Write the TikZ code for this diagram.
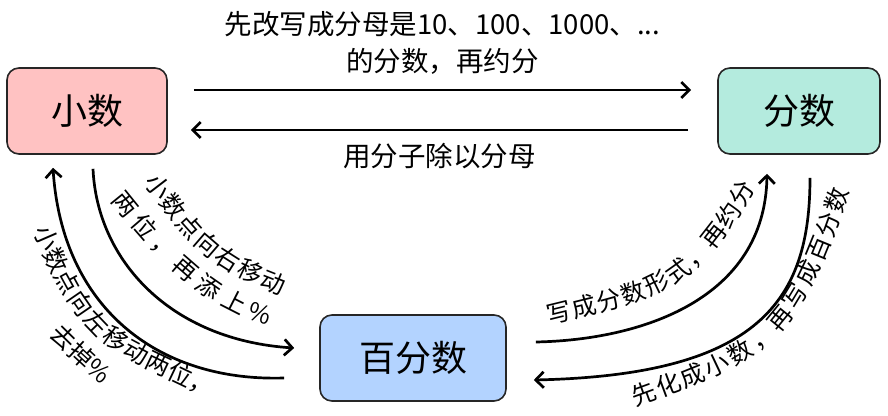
\documentclass[tikz,border=0pt]{standalone}
\usepackage{fontspec}
\setmainfont{Noto Sans CJK SC}
\usetikzlibrary{arrows.meta,decorations.text}
\definecolor{xspink}{HTML}{FFC2C2}
\definecolor{fsteal}{HTML}{B4EBDE}
\definecolor{bfblue}{HTML}{B3D3FF}
\newcommand\curvefont{\fontsize{24.5}{28}\selectfont}
\tikzset{
  box/.style={draw=black!85, line width=1.6pt, rounded corners=12pt, minimum height=86pt, font=\fontsize{36}{40}\selectfont},
  conv/.style={line width=2.7pt, -{Straight Barb[length=8pt,width=16pt]}},
  lbl/.style={font=\fontsize{27.5}{37}\selectfont, align=center},
  curvetext/.style 2 args={decorate, decoration={text along path, text align=center, raise=#1, text={|\curvefont|#2}}},
  curvefit/.style 2 args={decorate, decoration={text along path, text align={fit to path}, raise=#1, text={|\curvefont|#2}}},
}
\begin{document}
\begin{tikzpicture}[x=1pt, y=1pt]
    \useasboundingbox (0,0) rectangle (888,415);
    \node[box, fill=xspink, minimum width=160pt] (xiaoshu) at (87,304) {小数};
    \node[box, fill=fsteal, minimum width=162pt] (fenshu) at (799,304) {分数};
    \node[box, fill=bfblue, minimum width=186pt] (baifen) at (413,57) {百分数};
    % 小数 <-> 分数
    \draw[conv] ([shift={(26,21)}]xiaoshu.east) -- ([shift={(-26,21)}]fenshu.west) node[midway, above=11pt, lbl] {先改写成分母是10、100、1000、...\\的分数，再约分};
    \draw[conv] ([shift={(-29,-19)}]fenshu.west) -- ([shift={(23,-19)}]xiaoshu.east) node[midway, below=9pt, lbl] {用分子除以分母};
    % 小数 <-> 百分数
    \draw[conv] ([shift={(6,-14)}]xiaoshu.south) .. controls (97,155) and (170,75) .. ([shift={(-25,10)}]baifen.west);
    \draw[conv] ([shift={(-35,-20)}]baifen.west) .. controls (155,33) and (62,110) .. ([shift={(-34,-13)}]xiaoshu.south);
    \path[curvefit={-9.5pt}{小数点向右移动}] (151,238) .. controls (191,187) and (205,158) .. (285,129);
    \path[curvefit={-8pt}{两位，再添上{\%}}] (117,220) .. controls (150,179) and (201,115) .. (271,98);
    \path[curvefit={-13pt}{小数点向左移动两位，}] (45,190) .. controls (94,73) and (114,79) .. (208,32);
    \path[curvetext={-10pt}{去掉{\%}}] (49,93) .. controls (70,72) and (90,52) .. (116,32);
    % 百分数 <-> 分数
    \draw[conv] ([shift={(29,16)}]baifen.east) .. controls (640,75) and (765,115) .. ([shift={(-32,-19)}]fenshu.south);
    \draw[conv] ([shift={(11,-23)}]fenshu.south) .. controls (810,115) and (760,40) .. ([shift={(27,-22)}]baifen.east);
    \path[curvefit={-6.5pt}{写成分数形式，再约分}] (548,97) .. controls (657,124) and (691,126) .. (750,231);
    \path[curvefit={-13.5pt}{先化成小数，再写成百分数}] (631,21) .. controls (754,66) and (786,73) .. (836,228);
  \end{tikzpicture}
\end{document}
